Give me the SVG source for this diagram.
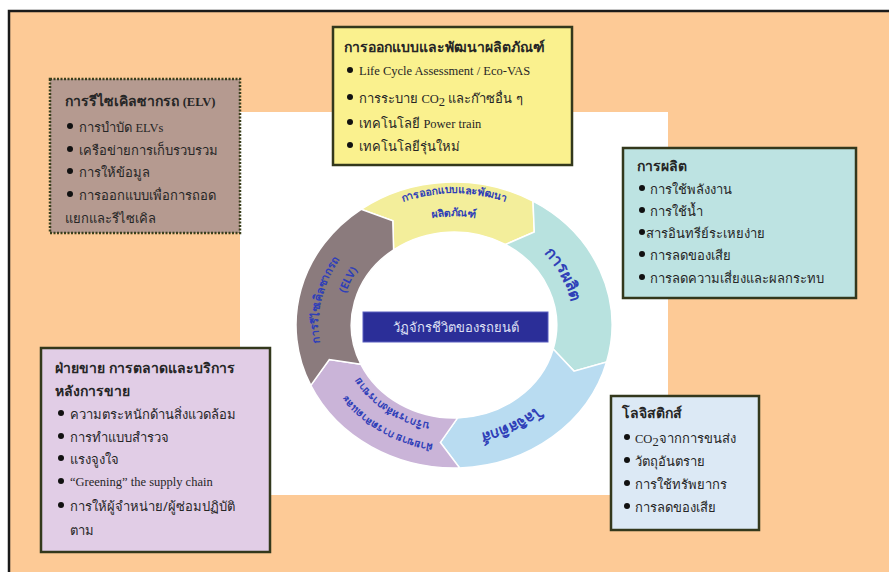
<svg xmlns="http://www.w3.org/2000/svg" width="889" height="572" viewBox="0 0 889 572">
<style>
.th{font-family:"Noto Sans","DejaVu Sans",sans-serif;fill:#262626}
.t{font-size:14px;font-weight:bold}
.b{font-size:13px}
.en{font-family:"Liberation Serif",serif;font-size:12.5px;fill:#262626}
.box{stroke:#33381c;stroke-width:2.5}
.seg{stroke:#ffffff;stroke-width:1.5}
.rt{font-family:"Noto Sans","DejaVu Sans",sans-serif;font-weight:bold;fill:#2f3fb8}
</style>
<defs>
<path id="pY1" d="M319.9,314.5 A133.7,121 0 0 1 588.1,314.5"/>
<path id="pY2" d="M334.1,315.4 A120.4,109 0 0 1 573.9,315.4"/>
<path id="pC" d="M412.9,222.9 A120.1,108.7 0 0 1 514.1,419.1"/>
<path id="pL" d="M564.3,278.5 A121.7,110.1 0 0 1 354.3,388.2"/>
<path id="pV1" d="M557.1,400.6 A132.7,120.1 0 0 1 337.9,266.8"/>
<path id="pV2" d="M534.9,393.3 A110.6,100.1 0 0 1 361.2,270.5"/>
<path id="pG1" d="M416.5,443.2 A135.9,123 0 0 1 468.2,202.7"/>
<path id="pG2" d="M400.6,415.9 A113.8,103 0 0 1 489.2,227.0"/>
</defs>
<rect x="0" y="0" width="889" height="572" fill="#ffffff"/>
<rect x="9" y="11" width="900" height="580" fill="#fdca96" stroke="#1a1a1a" stroke-width="2.5"/>
<rect x="240" y="112" width="428" height="383" fill="#ffffff"/>

<g id="cycle">
<g id="seg-design"><path class="seg" fill="#f3ee9b" d="M361.1,209.3 A158,143 0 0 1 533.0,201.2 L534.3,232.0 L505.4,244.5 A102.7,93 0 0 0 393.6,249.8 L392.8,220.8 Z"/>
<text class="rt" font-size="10.5"><textPath href="#pY1" startOffset="50%" text-anchor="middle">การออกแบบและพัฒนา</textPath></text>
<text class="rt" font-size="10.5"><textPath href="#pY2" startOffset="50%" text-anchor="middle">ผลิตภัณฑ์</textPath></text></g>
<g id="seg-production"><path class="seg" fill="#b8e2df" d="M533.0,201.2 A158,143 0 0 1 606.6,362.0 L574.0,371.1 L553.2,349.1 A102.7,93 0 0 0 505.4,244.5 L534.3,232.0 Z"/>
<text class="rt" font-size="16"><textPath href="#pC" startOffset="50%" text-anchor="middle">การผลิต</textPath></text></g>
<g id="seg-logistics"><path class="seg" fill="#b9dcf1" d="M606.6,362.0 A158,143 0 0 1 459.5,467.9 L440.4,442.4 L457.6,417.9 A102.7,93 0 0 0 553.2,349.1 L574.0,371.1 Z"/>
<text class="rt" font-size="15"><textPath href="#pL" startOffset="50%" text-anchor="middle">โลจิสติกส์</textPath></text></g>
<g id="seg-sales"><path class="seg" fill="#cab4d8" d="M459.5,467.9 A158,143 0 0 1 310.8,385.4 L329.3,359.5 L360.9,364.3 A102.7,93 0 0 0 457.6,417.9 L440.4,442.4 Z"/>
<text class="rt" font-size="10.5"><textPath href="#pV1" startOffset="50%" text-anchor="middle">ฝ่ายขาย การตลาดและ</textPath></text>
<text class="rt" font-size="10.5"><textPath href="#pV2" startOffset="50%" text-anchor="middle">บริการหลังการขาย</textPath></text></g>
<g id="seg-elv"><path class="seg" fill="#8b7b7d" d="M310.8,385.4 A158,143 0 0 1 361.1,209.3 L392.8,220.8 L393.6,249.8 A102.7,93 0 0 0 360.9,364.3 L329.3,359.5 Z"/>
<text class="rt" font-size="11"><textPath href="#pG1" startOffset="50%" text-anchor="middle">การรีไซเคิลซากรถ</textPath></text>
<text class="rt" font-size="11"><textPath href="#pG2" startOffset="50%" text-anchor="middle">(ELV)</textPath></text></g>
</g>

<g id="center">
<rect x="363" y="312" width="185" height="30" fill="#2b2e98" stroke="#5a5fc0" stroke-width="1"/>
<text x="455.5" y="332" text-anchor="middle" font-family="Noto Sans, DejaVu Sans, sans-serif" font-size="13" fill="#dfe0f5">วัฏจักรชีวิตของรถยนต์</text>
</g>

<g id="design">
<rect class="box" x="333" y="27" width="239" height="138" fill="#faf18e"/>
<text class="th t" x="344" y="52">การออกแบบและพัฒนาผลิตภัณฑ์</text>
<circle cx="350" cy="70" r="3" fill="#111"/><text class="en" x="359" y="75">Life Cycle Assessment / Eco-VAS</text>
<circle cx="350" cy="97" r="3" fill="#111"/><text class="th b" x="359" y="103">การระบาย <tspan class="en">CO</tspan><tspan class="en" font-size="8" dy="3">2</tspan><tspan dy="-3"> และก๊าซอื่น ๆ</tspan></text>
<circle cx="350" cy="122" r="3" fill="#111"/><text class="th b" x="359" y="128">เทคโนโลยี <tspan class="en">Power train</tspan></text>
<circle cx="350" cy="145" r="3" fill="#111"/><text class="th b" x="359" y="151">เทคโนโลยีรุ่นใหม่</text>
</g>

<g id="elv">
<rect x="50" y="79" width="190" height="154" fill="#b59a90" stroke="#3a3f1c" stroke-width="2.5" stroke-dasharray="2 1.5"/>
<text class="th t" x="65" y="106">การรีไซเคิลซากรถ <tspan class="en" font-weight="bold" font-size="13">(ELV)</tspan></text>
<circle cx="70" cy="126" r="3" fill="#111"/><text class="th b" x="79" y="132">การบำบัด <tspan class="en">ELVs</tspan></text>
<circle cx="70" cy="149" r="3" fill="#111"/><text class="th b" x="79" y="155">เครือข่ายการเก็บรวบรวม</text>
<circle cx="70" cy="171" r="3" fill="#111"/><text class="th b" x="79" y="177">การให้ข้อมูล</text>
<circle cx="70" cy="194" r="3" fill="#111"/><text class="th b" x="79" y="200">การออกแบบเพื่อการถอด</text>
<text class="th b" x="65" y="223">แยกและรีไซเคิล</text>
</g>

<g id="production">
<rect class="box" x="623" y="148" width="233" height="150" fill="#bde3e2"/>
<text class="th t" x="637" y="171">การผลิต</text>
<circle cx="642" cy="188" r="3" fill="#111"/><text class="th b" x="650" y="194">การใช้พลังงาน</text>
<circle cx="642" cy="210" r="3" fill="#111"/><text class="th b" x="650" y="216">การใช้น้ำ</text>
<circle cx="642" cy="232" r="3" fill="#111"/><text class="th b" x="646" y="238">สารอินทรีย์ระเหยง่าย</text>
<circle cx="642" cy="254" r="3" fill="#111"/><text class="th b" x="650" y="260">การลดของเสีย</text>
<circle cx="642" cy="277" r="3" fill="#111"/><text class="th b" x="650" y="283">การลดความเสี่ยงและผลกระทบ</text>
</g>

<g id="sales">
<rect class="box" x="41" y="348" width="229" height="204" fill="#e1cde6"/>
<text class="th t" x="55" y="373">ฝ่ายขาย การตลาดและบริการ</text>
<text class="th t" x="55" y="396">หลังการขาย</text>
<circle cx="61" cy="413" r="3" fill="#111"/><text class="th b" x="70" y="419">ความตระหนักด้านสิ่งแวดล้อม</text>
<circle cx="61" cy="436" r="3" fill="#111"/><text class="th b" x="70" y="442">การทำแบบสำรวจ</text>
<circle cx="61" cy="458" r="3" fill="#111"/><text class="th b" x="70" y="464">แรงจูงใจ</text>
<circle cx="61" cy="481" r="3" fill="#111"/><text class="en" x="70" y="486">“Greening” the supply chain</text>
<circle cx="61" cy="505" r="3" fill="#111"/><text class="th b" x="70" y="511">การให้ผู้จำหน่าย/ผู้ซ่อมปฏิบัติ</text>
<text class="th b" x="70" y="535">ตาม</text>
</g>

<g id="logistics">
<rect class="box" x="611" y="396" width="148" height="134" fill="#dce9f5"/>
<text class="th t" x="622" y="418">โลจิสติกส์</text>
<circle cx="627" cy="437" r="3" fill="#111"/><text class="th b" x="635" y="443"><tspan class="en">CO</tspan><tspan class="en" font-size="8" dy="3">2</tspan><tspan dy="-3">จากการขนส่ง</tspan></text>
<circle cx="627" cy="460" r="3" fill="#111"/><text class="th b" x="635" y="466">วัตถุอันตราย</text>
<circle cx="627" cy="483" r="3" fill="#111"/><text class="th b" x="635" y="489">การใช้ทรัพยากร</text>
<circle cx="627" cy="506" r="3" fill="#111"/><text class="th b" x="635" y="512">การลดของเสีย</text>
</g>
</svg>
